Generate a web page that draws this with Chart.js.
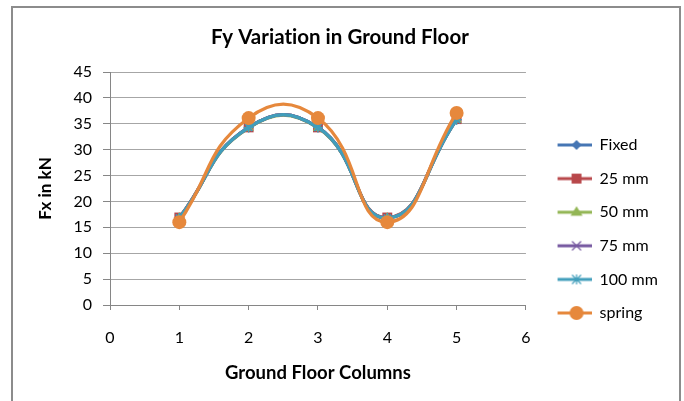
<!DOCTYPE html>
<html>
<head>
<meta charset="utf-8">
<script src="https://cdn.jsdelivr.net/npm/chart.js@4/dist/chart.umd.min.js"></script>
<style>
  html, body { margin: 0; padding: 0; background: #ffffff; }
  #wrap { width: 684px; height: 401px; position: relative; }
</style>
</head>
<body>
<div id="wrap"><canvas id="c" width="684" height="401"></canvas></div>
<script>
// Column numbers along the ground floor
const columns = [1, 2, 3, 4, 5];

// Shear force per column (kN) for each support condition
const fixedKN  = [16.8, 34.3, 34.3, 16.8, 35.8];
const mm25KN   = [16.9, 34.3, 34.3, 16.9, 35.9];
const mm50KN   = [16.8, 34.2, 34.2, 16.8, 35.8];
const mm75KN   = [16.8, 34.3, 34.3, 16.8, 35.8];
const mm100KN  = [16.8, 34.3, 34.3, 16.8, 35.8];
const springKN = [16.0, 36.1, 36.1, 16.0, 37.1];

const seriesNames = ['Fixed', '25 mm', '50 mm', '75 mm', '100 mm', 'spring'];
const seriesValues = [fixedKN, mm25KN, mm50KN, mm75KN, mm100KN, springKN];

// Axis ticks
const xTicks = [0, 1, 2, 3, 4, 5, 6];
const yTicks = [0, 5, 10, 15, 20, 25, 30, 35, 40, 45];

const colors  = ['#4676B4', '#B8474A', '#93B655', '#7658A0', '#419EBB', '#E6883C'];
const markers = ['rectRot', 'rect', 'triangle', 'crossRot', 'star', 'circle'];
const radii   = [5, 7, 6, 5, 5, 7];

const FONT = 'Lato, "Open Sans", "DejaVu Sans", sans-serif';
const LEGEND_FONT_SIZE = 16;
const LEGEND_PAD = 17.6;

// Legend swatch: short line with the series marker in the middle
const SWATCH_W = 48;
function makeSwatch(i) {
  const cv = document.createElement('canvas');
  cv.width = SWATCH_W; cv.height = 18;
  const g = cv.getContext('2d');
  const x0 = 14, x1 = 48, cy = 9, cx = 33;
  g.strokeStyle = colors[i];
  g.lineWidth = 3;
  g.beginPath(); g.moveTo(x0, cy); g.lineTo(x1, cy); g.stroke();
  g.fillStyle = colors[i];
  g.lineWidth = 1;
  const r = radii[i];
  const st = markers[i];
  g.beginPath();
  if (st === 'circle') { g.arc(cx, cy, r, 0, Math.PI * 2); g.fill(); }
  else if (st === 'rect') { const s = r * Math.SQRT1_2; g.fillRect(cx - s, cy - s, 2 * s, 2 * s); }
  else if (st === 'rectRot') { g.moveTo(cx, cy - r); g.lineTo(cx + r, cy); g.lineTo(cx, cy + r); g.lineTo(cx - r, cy); g.closePath(); g.fill(); }
  else if (st === 'triangle') { g.moveTo(cx, cy - r); g.lineTo(cx + r, cy + r * 0.6); g.lineTo(cx - r, cy + r * 0.6); g.closePath(); g.fill(); }
  else if (st === 'crossRot') { g.strokeStyle = colors[i]; g.lineWidth = 1.2; const d = r * 0.9; g.moveTo(cx - d, cy - d); g.lineTo(cx + d, cy + d); g.moveTo(cx + d, cy - d); g.lineTo(cx - d, cy + d); g.stroke(); }
  else if (st === 'star') { g.strokeStyle = colors[i]; g.lineWidth = 1.2; const d = r * 0.9; g.moveTo(cx - d, cy - d); g.lineTo(cx + d, cy + d); g.moveTo(cx + d, cy - d); g.lineTo(cx - d, cy + d); g.moveTo(cx, cy - r); g.lineTo(cx, cy + r); g.stroke(); }
  return cv;
}
const swatches = seriesNames.map((_, i) => makeSwatch(i));

// Right padding so the plot area ends at x = 526 whatever the legend text width
const measureCtx = document.createElement('canvas').getContext('2d');
measureCtx.font = LEGEND_FONT_SIZE + 'px ' + FONT;
const widestLabel = Math.max(...seriesNames.map(n => measureCtx.measureText(n).width));
const legendWidth = LEGEND_PAD + SWATCH_W + LEGEND_FONT_SIZE / 2 + widestLabel + 10;
const rightPad = Math.max(0, 684 - 526 - legendWidth);

// Draw order: spring on top, then 100 mm, ... Fixed at the bottom
const datasets = seriesNames.map((name, i) => ({
  label: name,
  data: columns.map((c, k) => ({ x: c, y: seriesValues[i][k] })),
  showLine: true,
  tension: 0.5,
  borderColor: colors[i],
  backgroundColor: colors[i],
  borderWidth: 3.2,
  pointStyle: markers[i],
  pointRadius: radii[i],
  pointHoverRadius: radii[i],
  pointBorderWidth: (markers[i] === 'crossRot' || markers[i] === 'star') ? 1.5 : 0,
  pointBorderColor: colors[i],
  order: seriesNames.length - 1 - i
}));

// Outer frame of the chart; plain letter spacing (no ligatures)
const framePlugin = {
  id: 'frame',
  beforeLayout(chart) { chart.ctx.letterSpacing = '0.01px'; },
  beforeDraw(chart) {
    const ctx = chart.ctx;
    ctx.letterSpacing = '0.01px';
    ctx.save();
    ctx.fillStyle = '#ffffff';
    ctx.fillRect(0, 0, chart.width, chart.height);
    ctx.strokeStyle = '#8c8c8c';
    ctx.lineWidth = 2;
    ctx.strokeRect(12, 7, 668, 410);
    ctx.restore();
  }
};

new Chart(document.getElementById('c'), {
  type: 'scatter',
  data: { datasets },
  plugins: [framePlugin],
  options: {
    responsive: false,
    animation: false,
    layout: { padding: { top: 8, left: 12, right: rightPad, bottom: 10 } },
    plugins: {
      title: {
        display: true,
        text: 'Fy Variation in Ground Floor',
        color: '#000000',
        font: { family: FONT, size: 20.5, weight: 'bold' },
        padding: { top: 17, bottom: 22.4 }
      },
      legend: {
        position: 'right',
        align: 'center',
        title: { display: true, text: ' ', padding: { top: 22, bottom: 22.6 }, font: { size: 12 } },
        labels: {
          usePointStyle: true,
          pointStyleWidth: SWATCH_W,
          padding: LEGEND_PAD,
          color: '#000000',
          font: { family: FONT, size: LEGEND_FONT_SIZE },
          generateLabels(chart) {
            return chart.data.datasets.map((ds, i) => ({
              text: ds.label,
              pointStyle: swatches[i],
              fillStyle: colors[i],
              strokeStyle: colors[i],
              lineWidth: 0,
              fontColor: '#000000',
              hidden: false,
              datasetIndex: i
            }));
          }
        }
      },
      tooltip: { enabled: false }
    },
    scales: {
      x: {
        type: 'linear',
        min: xTicks[0],
        max: xTicks[xTicks.length - 1],
        afterBuildTicks(scale) { scale.ticks = xTicks.map(v => ({ value: v })); },
        afterFit(scale) { scale.height = 86; },
        grid: { drawOnChartArea: false, drawTicks: true, tickLength: 5, color: '#868686' },
        border: { color: '#868686', width: 1 },
        ticks: { color: '#000000', font: { family: FONT, size: 16 }, padding: 18 },
        title: {
          display: true,
          text: 'Ground Floor Columns',
          color: '#000000',
          font: { family: FONT, size: 18.5, weight: 'bold' },
          padding: { top: 0, bottom: 7 }
        }
      },
      y: {
        type: 'linear',
        min: yTicks[0],
        max: yTicks[yTicks.length - 1],
        afterBuildTicks(scale) { scale.ticks = yTicks.map(v => ({ value: v })); },
        afterFit(scale) { scale.width = 98; },
        grid: { color: '#a6a6a6', lineWidth: 1, drawTicks: true, tickLength: 7, tickColor: '#868686' },
        border: { color: '#868686', width: 1 },
        ticks: { color: '#000000', font: { family: FONT, size: 16 }, padding: 11 },
        title: {
          display: true,
          text: 'Fx in kN',
          color: '#000000',
          font: { family: FONT, size: 17, weight: 'bold' },
          padding: { top: 23, bottom: 0 }
        }
      }
    }
  }
});
</script>
</body>
</html>
